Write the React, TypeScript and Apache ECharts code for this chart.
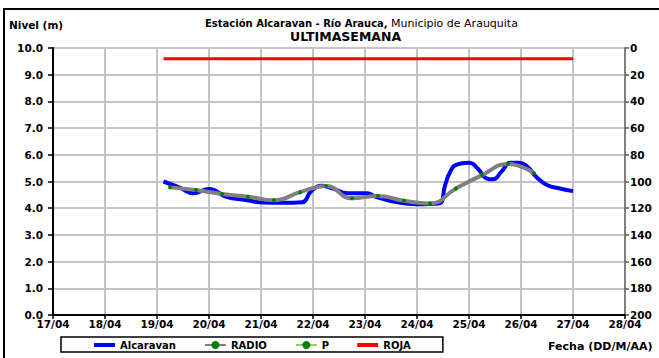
import React, { useEffect, useRef } from 'react';
import * as echarts from 'echarts';

const alcaravanTimes = [
  '2024-04-19 03:00', '2024-04-19 10:30', '2024-04-19 17:00', '2024-04-20 00:00',
  '2024-04-20 08:00', '2024-04-20 17:00', '2024-04-21 01:00', '2024-04-21 10:00',
  '2024-04-21 19:00', '2024-04-21 23:00', '2024-04-22 04:00', '2024-04-22 09:00',
  '2024-04-22 16:00', '2024-04-23 01:00', '2024-04-23 05:00', '2024-04-23 15:00',
  '2024-04-24 00:00', '2024-04-24 10:00', '2024-04-24 13:00', '2024-04-24 15:00',
  '2024-04-24 18:00', '2024-04-25 00:00', '2024-04-25 04:00', '2024-04-25 08:00',
  '2024-04-25 11:00', '2024-04-25 15:00', '2024-04-25 19:00', '2024-04-25 23:00',
  '2024-04-26 03:00', '2024-04-26 07:00', '2024-04-26 12:00', '2024-04-26 18:00',
  '2024-04-27 00:00',
];
const alcaravanValues = [
  5.0, 4.77, 4.56, 4.72,
  4.43, 4.31, 4.21, 4.2,
  4.22, 4.62, 4.84, 4.74,
  4.56, 4.56, 4.43, 4.22,
  4.15, 4.18, 4.87, 5.31,
  5.62, 5.7, 5.49, 5.12,
  5.08, 5.37, 5.7, 5.7,
  5.55, 5.18, 4.87, 4.74,
  4.64,
];

const radioTimes = [
  '2024-04-19 06:00', '2024-04-19 18:00', '2024-04-20 06:00', '2024-04-20 18:00',
  '2024-04-21 06:00', '2024-04-21 18:00', '2024-04-22 06:00', '2024-04-22 18:00',
  '2024-04-23 06:00', '2024-04-23 18:00', '2024-04-24 06:00', '2024-04-24 18:00',
  '2024-04-25 06:00', '2024-04-25 18:00', '2024-04-26 06:00',
];
const radioValues = [
  4.78, 4.68, 4.53, 4.43,
  4.3, 4.6, 4.83, 4.37,
  4.46, 4.28, 4.18, 4.74,
  5.24, 5.66, 5.31,
];

const pTimes: string[] = [];
const pValues: number[] = [];

const rojaTimes = ['2024-04-19 03:00', '2024-04-27 00:00'];
const rojaValues = [9.6, 9.6];

const dayLabels = ['17/04', '18/04', '19/04', '20/04', '21/04', '22/04', '23/04', '24/04', '25/04', '26/04', '27/04', '28/04'];
const axisStart = '2024-04-17 00:00';
const axisEnd = '2024-04-28 00:00';

const FONT = 'DejaVu Sans';
const DAY = 86400000;
const LINE_ICON = 'path://M0,0L0.01,0L0.01,0.01L0,0.01Z M0,3L21,3L21,7L0,7Z M0,9.99L0.01,9.99L0.01,10L0,10Z';

function pair(times: string[], values: number[]) {
  return times.map((t, i) => [t, values[i]]);
}

export default function App() {
  const ref = useRef<HTMLDivElement>(null);
  useEffect(() => {
    if (!ref.current) return;
    const chart = echarts.init(ref.current, null, { renderer: 'svg' });
    const startMs = new Date(axisStart.replace(' ', 'T')).getTime();
    const labelStyle = { fontFamily: FONT, fontWeight: 'bold' as const, fontSize: 10.5, color: '#000' };
    chart.setOption({
      animation: false,
      backgroundColor: '#fff',
      grid: { left: 53, right: 34, top: 48, bottom: 43, outerBoundsMode: 'none' },
      legend: {
        left: 61,
        top: 337,
        padding: [3, 32, 2, 33],
        itemGap: 28,
        itemWidth: 21,
        itemHeight: 10,
        borderColor: '#000',
        borderWidth: 1.5,
        backgroundColor: '#fff',
        borderRadius: 0,
        textStyle: { fontFamily: FONT, fontWeight: 'bold', fontSize: 10, color: '#000' },
        data: [
          { name: 'Alcaravan', icon: LINE_ICON },
          { name: 'RADIO' },
          { name: 'P' },
          { name: 'ROJA', icon: LINE_ICON },
        ],
      },
      xAxis: {
        type: 'time',
        min: axisStart,
        max: axisEnd,
        minInterval: DAY,
        maxInterval: DAY,
        axisLine: { lineStyle: { color: '#000', width: 2 } },
        axisTick: { show: true, length: 4, lineStyle: { color: '#000', width: 1.5 } },
        splitLine: { show: true, lineStyle: { color: '#c4c4c4', width: 2 } },
        axisLabel: {
          ...labelStyle,
          margin: 3,
          hideOverlap: false,
          showMinLabel: true,
          showMaxLabel: true,
          formatter: (v: number) => dayLabels[Math.round((v - startMs) / DAY)] ?? '',
        },
      },
      yAxis: [
        {
          type: 'value',
          min: 0,
          max: 10,
          interval: 1,
          position: 'left',
          axisLine: { show: true, lineStyle: { color: '#000', width: 2 } },
          axisTick: { show: true, length: 5, lineStyle: { color: '#000', width: 1.5 } },
          splitLine: { show: true, lineStyle: { color: '#c4c4c4', width: 2 } },
          axisLabel: { ...labelStyle, margin: 10, formatter: (v: number) => v.toFixed(1) },
        },
        {
          type: 'value',
          min: 0,
          max: 200,
          interval: 20,
          inverse: true,
          position: 'right',
          axisLine: { show: true, lineStyle: { color: '#808080', width: 2 } },
          axisTick: { show: true, length: 4, lineStyle: { color: '#555', width: 1.5 } },
          splitLine: { show: false },
          axisLabel: { ...labelStyle, margin: 5 },
        },
      ],
      series: [
        {
          name: 'Alcaravan',
          type: 'line',
          yAxisIndex: 0,
          smooth: 0.5,
          symbol: 'none',
          lineStyle: { color: '#0000ff', width: 4 },
          itemStyle: { color: '#0000ff' },
          data: pair(alcaravanTimes, alcaravanValues),
          z: 2,
        },
        {
          name: 'RADIO',
          type: 'line',
          yAxisIndex: 0,
          smooth: 0.5,
          symbol: 'circle',
          symbolSize: 4,
          lineStyle: { color: '#808080', width: 4 },
          itemStyle: { color: '#008000', borderWidth: 0 },
          data: pair(radioTimes, radioValues),
          z: 3,
        },
        {
          name: 'P',
          type: 'line',
          yAxisIndex: 1,
          symbol: 'circle',
          symbolSize: 4,
          lineStyle: { color: '#99cc66', width: 3 },
          itemStyle: { color: '#008000', borderWidth: 0 },
          data: pair(pTimes, pValues),
          z: 3,
        },
        {
          name: 'ROJA',
          type: 'line',
          yAxisIndex: 0,
          symbol: 'none',
          lineStyle: { color: '#ff0000', width: 3 },
          itemStyle: { color: '#ff0000' },
          data: pair(rojaTimes, rojaValues),
          z: 2,
        },
      ],
      graphic: [
        {
          type: 'rect',
          shape: { x: 4, y: 9, width: 700, height: 400 },
          style: { fill: 'none', stroke: '#000', lineWidth: 2 },
          silent: true,
        },
        {
          type: 'text',
          x: 9,
          y: 25,
          style: { text: 'Nivel (m)', fontFamily: FONT, fontWeight: 'bold', fontSize: 10.5, fill: '#000', verticalAlign: 'middle' },
        },
        {
          type: 'text',
          x: 205,
          y: 23,
          style: {
            text: '{b|Estación Alcaravan - Río Arauca,} {n|Municipio de Arauquita}',
            verticalAlign: 'middle',
            rich: {
              b: { fontFamily: FONT, fontWeight: 'bold', fontSize: 10, fill: '#000' },
              n: { fontFamily: FONT, fontWeight: 'normal', fontSize: 11, fill: '#000' },
            },
          },
        },
        {
          type: 'text',
          x: 290,
          y: 36,
          style: { text: 'ULTIMASEMANA', fontFamily: FONT, fontWeight: 'bold', fontSize: 12.5, fill: '#000', verticalAlign: 'middle' },
        },
        {
          type: 'text',
          x: 548,
          y: 346,
          style: { text: 'Fecha (DD/M/AA)', fontFamily: FONT, fontWeight: 'bold', fontSize: 11, fill: '#000', verticalAlign: 'middle' },
        },
      ],
    });
    return () => chart.dispose();
  }, []);
  return (
    <div style={{ position: 'fixed', left: 0, top: 0, width: 659, height: 358, background: '#fff' }}>
      <div ref={ref} style={{ width: 659, height: 358 }} />
    </div>
  );
}
